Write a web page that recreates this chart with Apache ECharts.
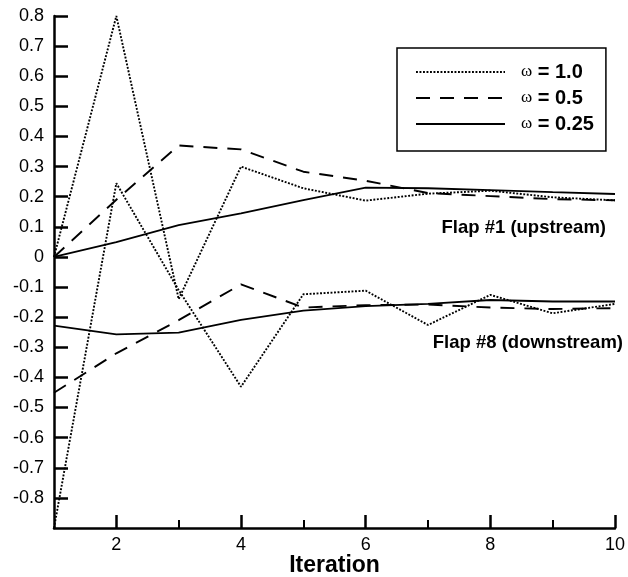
<!DOCTYPE html>
<html>
<head>
<meta charset="utf-8">
<script src="https://cdn.jsdelivr.net/npm/echarts@6/dist/echarts.min.js"></script>
<style>
html,body{margin:0;padding:0;background:#fff;}
#chart{width:628px;height:577px;}
</style>
</head>
<body>
<div id="chart"></div>
<script>
// iterations on the x axis
var iterations = [1, 2, 3, 4, 5, 6, 7, 8, 9, 10];
// omega = 1.0 (dotted)
var up10   = [0, 0.80, -0.14, 0.30, 0.228, 0.187, 0.21, 0.22, 0.198, 0.188];
var down10 = [-0.9, 0.245, -0.11, -0.431, -0.124, -0.112, -0.226, -0.126, -0.187, -0.156];
// omega = 0.5 (dashed)
var up05   = [0, 0.19, 0.37, 0.357, 0.283, 0.253, 0.212, 0.202, 0.192, 0.188];
var down05 = [-0.451, -0.32, -0.21, -0.091, -0.168, -0.16, -0.158, -0.168, -0.173, -0.17];
// omega = 0.25 (solid)
var up025   = [0, 0.049, 0.106, 0.145, 0.189, 0.23, 0.228, 0.222, 0.215, 0.209];
var down025 = [-0.228, -0.257, -0.251, -0.209, -0.178, -0.163, -0.156, -0.143, -0.148, -0.148];

var legendNames = ['ω = 1.0', 'ω = 0.5', 'ω = 0.25'];
var FONT = '"Liberation Sans", Arial, sans-serif';

function lineSeries(name, data, type){
	return {
		name: name,
		type: 'line',
		data: data,
		symbol: 'none',
		silent: true,
		animation: false,
		itemStyle: {color: '#000'},
		lineStyle: {color: '#000', width: type == 'solid' ? 1.8 : 1.9, type: type}
	};
}

var myChart = echarts.init(document.getElementById('chart'));
var option = {
	backgroundColor: '#fff',
	animation: false,
	grid: {left: 54, right: 13, top: 16, bottom: 49, containLabel: false, outerBoundsMode: 'none'},
	legend: {
		data: legendNames,
		orient: 'vertical',
		left: 397,
		top: 48,
		itemWidth: 89,
		itemHeight: 14,
		itemGap: 6,
		padding: [14, 12, 17, 18],
		borderColor: '#000',
		borderWidth: 1.5,
		selectedMode: false,
		itemStyle: {opacity: 0},
		formatter: function(name){
			return '{w|ω}{b|' + name.replace('ω', '') + '}';
		},
		textStyle: {
			lineHeight: 19,
			rich: {
				w: {fontFamily: '"Liberation Serif", serif', fontSize: 17, color: '#000', padding: [0, 0, 0, 11]},
				b: {fontFamily: FONT, fontSize: 20, fontWeight: 'bold', color: '#000'}
			}
		}
	},
	xAxis: [{
		type: 'category',
		data: iterations,
		boundaryGap: false,
		position: 'bottom',
		name: 'Iteration',
		nameLocation: 'middle',
		nameGap: 26,
		nameMoveOverlap: false,
		nameTextStyle: {fontFamily: FONT, fontSize: 23, fontWeight: 'bold', color: '#000'},
		axisLine: {onZero: false, lineStyle: {color: '#000', width: 2.5}},
		axisTick: {inside: true, length: 13, lineStyle: {color: '#000', width: 2.5},
			interval: function(i, v){ return v % 2 == 0; }},
		axisLabel: {fontFamily: FONT, fontSize: 18, color: '#000', margin: 8,
			interval: function(i, v){ return v % 2 == 0; }},
		splitLine: {show: false}
	}, {
		type: 'category',
		data: iterations,
		boundaryGap: false,
		position: 'bottom',
		axisLine: {show: false, onZero: false},
		axisTick: {inside: true, length: 8, lineStyle: {color: '#000', width: 2},
			interval: function(i, v){ return v % 2 == 1 && v > 1; }},
		axisLabel: {show: false},
		splitLine: {show: false}
	}],
	yAxis: {
		type: 'value',
		min: -0.9,
		max: 0.8,
		interval: 0.1,
		axisLine: {show: true, onZero: false, lineStyle: {color: '#000', width: 2.5}},
		axisTick: {show: true, inside: true, length: 14, lineStyle: {color: '#000', width: 2.5}},
		axisLabel: {fontFamily: FONT, fontSize: 18, color: '#000', margin: 10, showMinLabel: false,
			formatter: function(v){ return String(Math.round(v * 10) / 10); }},
		splitLine: {show: false}
	},
	graphic: [
		{type: 'text', right: 22, top: 218, style: {text: 'Flap #1 (upstream)', font: 'bold 18.5px ' + FONT, fill: '#000'}},
		{type: 'text', right: 5, top: 333, style: {text: 'Flap #8 (downstream)', font: 'bold 18.5px ' + FONT, fill: '#000'}}
	],
	series: [
		lineSeries(legendNames[0], up10, [1.9, 1.6]),
		lineSeries(legendNames[0], down10, [1.9, 1.6]),
		lineSeries(legendNames[1], up05, [14, 10]),
		lineSeries(legendNames[1], down05, [14, 10]),
		lineSeries(legendNames[2], up025, 'solid'),
		lineSeries(legendNames[2], down025, 'solid')
	]
};
myChart.setOption(option);
</script>
</body>
</html>
